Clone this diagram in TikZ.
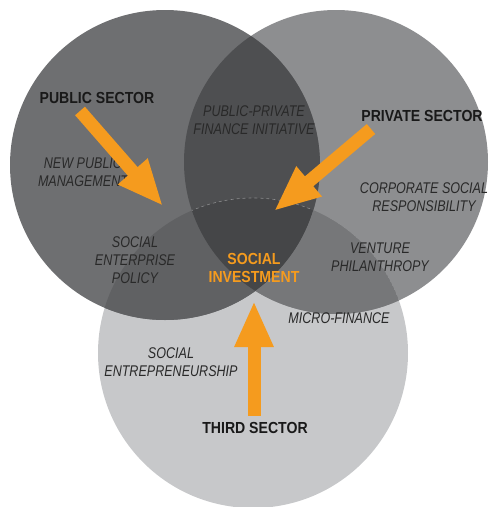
\documentclass[tikz,border=0pt]{standalone}
\usepackage{fontspec}
\newfontfamily\areafont[FakeStretch=0.81]{Liberation Sans}
\newfontfamily\sectorfont[FakeStretch=0.88]{Liberation Sans}
\usetikzlibrary{arrows.meta,positioning}
\definecolor{pubgray}{HTML}{6E6F71}
\definecolor{privgray}{HTML}{8D8E90}
\definecolor{thirdgray}{HTML}{C7C8CA}
\definecolor{ppgray}{HTML}{4E4F51}
\definecolor{ptgray}{HTML}{606163}
\definecolor{vtgray}{HTML}{767779}
\definecolor{allgray}{HTML}{454648}
\definecolor{investorange}{HTML}{F59B1E}

\begin{document}
\begin{tikzpicture}[x=1pt,y=-1pt,
    sector/.style={font=\sectorfont\fontsize{16}{18}\selectfont\bfseries,text=black!90},
    area/.style={font=\areafont\fontsize{15.5}{17.8}\selectfont\itshape,text=black!84,align=center},
    push/.style={draw=investorange,line width=13pt,-{Triangle[length=46pt 0,width=36pt 0]}}]

    \useasboundingbox (0,0) rectangle (489,507);

    % the three sectors
    \def\pubcircle{(165,165) circle (155)}
    \def\privcircle{(336,162) circle (152)}
    \def\thirdcircle{(253,353) circle (155)}

    \fill[thirdgray] \thirdcircle;
    \fill[privgray] \privcircle;
    \fill[pubgray] \pubcircle;
    \begin{scope}
        \clip \pubcircle;
        \fill[ppgray] \privcircle;
        \fill[ptgray] \thirdcircle;
        \clip \privcircle;
        \fill[allgray] \thirdcircle;
        \draw[white,opacity=.35,dashed,line width=.6pt] \thirdcircle;
    \end{scope}
    \begin{scope}
        \clip \privcircle;
        \clip \thirdcircle;
        \begin{scope}[even odd rule]
            \clip \pubcircle (0,0) rectangle (489,507);
            \fill[vtgray] \thirdcircle;
        \end{scope}
    \end{scope}

    % labels
    \node[sector] (public) at (97,98) {PUBLIC SECTOR};
    \node[sector] (private) at (422,116) {PRIVATE SECTOR};
    \node[sector] (third) at (255,428) {THIRD SECTOR};
    \node[sector,text=investorange,align=center] (invest) at (254,268) {SOCIAL\\INVESTMENT};

    \node[area] (ppfi) at (254,120) {PUBLIC-PRIVATE\\FINANCE INITIATIVE};
    \node[area] (npm) at (83,172) {NEW PUBLIC\\MANAGEMENT};
    \node[area] (csr) at (424,197) {CORPORATE SOCIAL\\RESPONSIBILITY};
    \node[area] (sep) at (135,260) {SOCIAL\\ENTERPRISE\\POLICY};
    \node[area] (vp) at (380,257) {VENTURE\\PHILANTHROPY};
    \node[area] (mf) at (339,318) {MICRO-FINANCE};
    \node[area] (se) at (171,362) {SOCIAL\\ENTREPRENEURSHIP};

    % arrows into the middle
    \coordinate (pubtail) at (80,111);
    \coordinate (pubtip) at (163,206);
    \coordinate (privtail) at (371,129);
    \coordinate (privtip) at (274,211);
    \coordinate (thirdtail) at (254,416);
    \coordinate (thirdtip) at (254,301);

    \draw[push] (pubtail) -- (pubtip);
    \draw[push] (privtail) -- (privtip);
    \draw[push] (thirdtail) -- (thirdtip);
\end{tikzpicture}
\end{document}
